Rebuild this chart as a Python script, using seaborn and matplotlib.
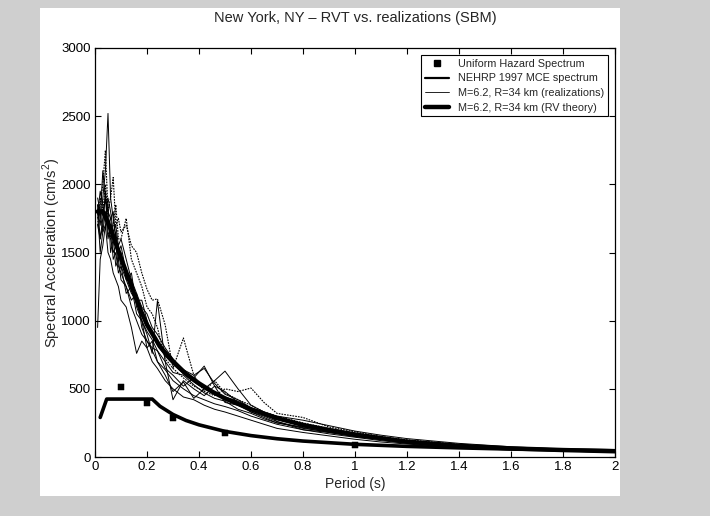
import numpy as np
import pandas as pd
import matplotlib
matplotlib.use("Agg")
import matplotlib.pyplot as plt
from matplotlib.lines import Line2D
from matplotlib.patches import Rectangle
import seaborn as sns

# ---------------- data ----------------
title = "New York, NY \u2013 RVT vs. realizations (SBM)"
xlabel = "Period (s)"
ylabel = "Spectral Acceleration (cm/s$^2$)"
x_ticks = [0, 0.2, 0.4, 0.6, 0.8, 1, 1.2, 1.4, 1.6, 1.8, 2]
x_tick_labels = ["0", "0.2", "0.4", "0.6", "0.8", "1", "1.2", "1.4", "1.6", "1.8", "2"]
y_ticks = [0, 500, 1000, 1500, 2000, 2500, 3000]

legend_labels = ["Uniform Hazard Spectrum", "NEHRP 1997 MCE spectrum",
                 "M=6.2, R=34 km (realizations)", "M=6.2, R=34 km (RV theory)"]

# Uniform hazard spectrum points
uhs_period = [0.1, 0.2, 0.3, 0.5, 1.0]
uhs_sa = [510, 395, 285, 175, 86]

# NEHRP 1997 MCE spectrum
nehrp_period = [0.02, 0.045, 0.22, 0.25, 0.3, 0.35, 0.4, 0.5, 0.6, 0.7, 0.8,
                1.0, 1.2, 1.4, 1.6, 1.8, 2.0]
nehrp_sa = [290, 425, 425, 372, 312, 268, 236, 188, 157, 134, 117,
            93, 78, 67, 58, 52, 46]

# RV theory curve
rvt_period = [0.01, 0.03, 0.05, 0.07, 0.1, 0.125, 0.15, 0.175, 0.2, 0.25, 0.3,
              0.35, 0.4, 0.45, 0.5, 0.6, 0.7, 0.8, 0.9, 1.0, 1.2, 1.4, 1.6, 1.8, 2.0]
rvt_sa = [1800, 1800, 1720, 1620, 1460, 1330, 1200, 1080, 970, 810, 700,
          610, 540, 480, 430, 350, 285, 235, 198, 165, 112, 82, 63, 51, 42]

# Realizations (common period grid)
real_period = [0.01, 0.02, 0.03, 0.04, 0.05, 0.06, 0.07, 0.08, 0.09, 0.10,
               0.12, 0.14, 0.16, 0.18, 0.20, 0.22, 0.24, 0.27, 0.30, 0.34,
               0.38, 0.42, 0.46, 0.50, 0.55, 0.60, 0.65, 0.70, 0.80, 0.90,
               1.00, 1.10, 1.20, 1.40, 1.60, 1.80, 2.00]
real_1 = [1820, 1700, 1900, 2100, 2520, 1900, 1750, 1600, 1450, 1500,
          1300, 1350, 1100, 1000, 900, 760, 1145, 700, 420, 560,
          500, 450, 520, 480, 400, 330, 300, 260, 200, 180,
          150, 130, 110, 80, 60, 48, 38]
real_2 = [1750, 1850, 2000, 2250, 1800, 1900, 2050, 1700, 1750, 1650,
          1700, 1550, 1500, 1350, 1230, 1150, 1160, 968, 650, 873,
          600, 480, 560, 470, 420, 380, 330, 300, 250, 210,
          175, 145, 125, 90, 68, 55, 44]
real_3 = [1850, 1600, 1750, 1900, 1650, 1600, 1500, 1550, 1400, 1350,
          1250, 1150, 1200, 950, 850, 800, 780, 650, 600, 520,
          580, 667, 520, 400, 380, 330, 290, 250, 220, 190,
          160, 135, 115, 85, 64, 50, 40]
real_4 = [1800, 1500, 1650, 1800, 1600, 1700, 1450, 1500, 1350, 1400,
          1200, 1250, 1050, 1000, 800, 850, 700, 600, 480, 550,
          430, 500, 560, 630, 500, 380, 330, 260, 210, 185,
          160, 140, 118, 88, 66, 52, 41]
real_5 = [1700, 1900, 1800, 2000, 1750, 1600, 1700, 1850, 1600, 1600,
          1750, 1450, 1350, 1250, 1100, 1050, 950, 720, 650, 580,
          520, 480, 450, 500, 480, 506, 400, 320, 290, 220,
          185, 150, 125, 92, 70, 55, 45]
real_6 = [1900, 1800, 1650, 1700, 1850, 1500, 1600, 1400, 1450, 1300,
          1250, 1100, 1000, 900, 850, 780, 700, 640, 560, 500,
          450, 420, 390, 370, 340, 300, 270, 240, 200, 170,
          145, 120, 100, 75, 58, 46, 37]
real_7 = [950, 1450, 1550, 1700, 1500, 1450, 1350, 1300, 1250, 1150,
          1100, 950, 760, 850, 800, 700, 650, 560, 500, 440,
          420, 380, 350, 330, 300, 270, 240, 210, 180, 155,
          130, 110, 95, 70, 55, 43, 35]
real_8 = [1780, 1950, 1850, 1750, 1900, 1800, 1650, 1700, 1550, 1600,
          1450, 1300, 1200, 1100, 1050, 950, 900, 800, 720, 640,
          600, 650, 540, 460, 420, 360, 330, 300, 270, 230,
          190, 160, 135, 100, 75, 58, 47]
real_9 = [1850, 1750, 2100, 1900, 1800, 1750, 1600, 1650, 1500, 1400,
          1300, 1200, 1150, 1000, 920, 860, 780, 700, 620, 600,
          530, 470, 430, 410, 350, 320, 280, 250, 215, 180,
          150, 128, 108, 80, 62, 49, 39]
real_10 = [1700, 1600, 1700, 1950, 1700, 1750, 1800, 1600, 1500, 1550,
           1350, 1300, 1150, 1150, 1000, 900, 820, 740, 680, 610,
           550, 500, 460, 440, 410, 360, 310, 275, 230, 195,
           165, 140, 120, 88, 67, 53, 42]
realizations = [real_1, real_2, real_3, real_4, real_5,
                real_6, real_7, real_8, real_9, real_10]
dotted_runs = [1, 4]   # these scanned traces look broken / dotted

# ---------------- figure ----------------
sns.set_style("ticks")
plt.rcParams["font.family"] = ["Liberation Sans", "DejaVu Sans"]
plt.rcParams["mathtext.fontset"] = "custom"
plt.rcParams["mathtext.rm"] = "Liberation Sans"

fig = plt.figure(figsize=(7.10, 5.16), dpi=100)
fig.patch.set_facecolor("#cfcfcf")
fig.add_artist(Rectangle((40 / 710, 1 - 496 / 516), 580 / 710, (496 - 8) / 516,
                         transform=fig.transFigure, facecolor="white",
                         edgecolor="none", zorder=0))
ax = fig.add_axes([95 / 710, 1 - 457 / 516, 520 / 710, 409 / 516])
ax.set_facecolor("white")

frames = []
for i, vals in enumerate(realizations):
    frames.append(pd.DataFrame({"Period": real_period, "SA": vals, "run": i}))
df_real = pd.concat(frames, ignore_index=True)
solid_df = df_real[~df_real["run"].isin(dotted_runs)]
dot_df = df_real[df_real["run"].isin(dotted_runs)]

sns.lineplot(data=solid_df, x="Period", y="SA", units="run", estimator=None,
             color="black", linewidth=0.7, ax=ax, legend=False, sort=False)
sns.lineplot(data=dot_df, x="Period", y="SA", units="run", estimator=None,
             color="black", linewidth=0.8, ax=ax, legend=False, sort=False,
             linestyle=(0, (1.5, 1.0)))

sns.lineplot(x=rvt_period, y=rvt_sa, color="black", linewidth=3.2, ax=ax,
             legend=False, estimator=None, sort=False)
sns.lineplot(x=nehrp_period, y=nehrp_sa, color="black", linewidth=2.6, ax=ax,
             legend=False, estimator=None, sort=False)
sns.scatterplot(x=uhs_period, y=uhs_sa, marker="s", color="black", s=20,
                edgecolor="black", ax=ax, legend=False, zorder=5)

ax.set_xlim(0, 2)
ax.set_ylim(0, 3000)
ax.set_xticks(x_ticks)
ax.set_xticklabels(x_tick_labels)
ax.set_yticks(y_ticks)
ax.tick_params(direction="in", top=True, right=True, length=4, width=0.8,
               labelsize=9.5, colors="black", pad=3)
for s in ax.spines.values():
    s.set_color("black")
    s.set_linewidth(0.9)

ax.set_xlabel(xlabel, fontsize=10, labelpad=3)
ax.set_ylabel(ylabel, fontsize=10.5, labelpad=-1)
ax.set_title(title, fontsize=10.5, pad=19)

handles = [
    Line2D([], [], marker="s", color="black", linestyle="none", markersize=4.5),
    Line2D([], [], color="black", linewidth=1.6),
    Line2D([], [], color="black", linewidth=0.6),
    Line2D([], [], color="black", linewidth=3.2),
]
leg = ax.legend(handles, legend_labels, loc="upper right",
                bbox_to_anchor=(0.99, 0.988), fontsize=7.8, frameon=True,
                fancybox=False, framealpha=1, edgecolor="black",
                handlelength=2.2, borderpad=0.35, labelspacing=0.42,
                handletextpad=0.8, borderaxespad=0.2)
leg.get_frame().set_linewidth(0.8)

fig.savefig("out.png", dpi=100, facecolor=fig.get_facecolor())
